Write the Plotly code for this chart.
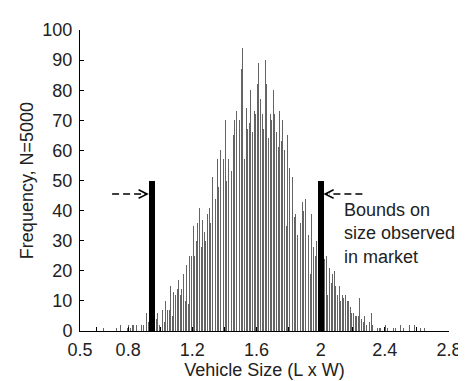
import plotly.graph_objects as go

# Histogram: bins of width 0.01 starting at 0.60
bin_start = 0.60
bin_width = 0.01
counts = [
    1, 0, 0, 0, 1, 0, 0, 0, 0, 0,          # 0.60
    0, 0, 1, 0, 0, 2, 0, 0, 0, 1,          # 0.70
    2, 1, 2, 2, 0, 2, 0, 0, 2, 2,          # 0.80
    2, 6, 3, 4, 6, 3, 5, 4, 6, 2,          # 0.90
    3, 7, 3, 10, 7, 7, 15, 5, 13, 12,      # 1.00
    14, 17, 12, 14, 19, 10, 22, 9, 25, 25, # 1.10
    35, 25, 30, 36, 41, 28, 37, 33, 30, 39,# 1.20
    41, 36, 51, 39, 44, 57, 48, 60, 52, 57,# 1.30
    70, 50, 57, 57, 53, 65, 70, 73, 66, 70,# 1.40
    87, 94, 57, 74, 67, 69, 80, 66, 73, 72,# 1.50
    82, 89, 77, 72, 67, 90, 82, 64, 72, 70,# 1.60
    80, 72, 66, 61, 73, 63, 70, 60, 35, 65,# 1.70
    54, 56, 51, 38, 39, 32, 41, 36, 43, 40,# 1.80
    44, 36, 32, 19, 39, 28, 25, 30, 24, 28,# 1.90
    22, 21, 24, 25, 12, 21, 16, 19, 20, 15,# 2.00
    12, 15, 10, 12, 11, 12, 10, 10, 8, 6,  # 2.10
    6, 5, 5, 5, 11, 4, 3, 5, 2, 3,         # 2.20
    3, 6, 2, 0, 1, 1, 1, 1, 0, 2,          # 2.30
    2, 1, 0, 0, 0, 1, 1, 0, 0, 2,          # 2.40
    0, 1, 0, 0, 0, 2, 0, 0, 2, 1,          # 2.50
    0, 0, 1, 0, 1,                         # 2.60
]
bin_centers = [round(bin_start + bin_width * (i + 0.5), 4) for i in range(len(counts))]

# Market bounds
bound_x = [0.95, 2.0]
bound_h = [50, 50]

# Tick labels
xtick_vals = [0.5, 0.8, 1.2, 1.6, 2.0, 2.4, 2.8]
xtick_text = ["0.5", "0.8", "1.2", "1.6", "2", "2.4", "2.8"]
xminor_vals = [0.6, 1.0, 1.4, 1.8, 2.2, 2.6]
ytick_vals = list(range(0, 101, 10))

arrow_y = 45.5
left_arrow = (0.70, 0.929)
right_arrow = (2.26, 2.017)
note_text = "Bounds on<br>size observed<br>in market"
note_x, note_y = 2.135, 32.5

FONT = "Liberation Sans, Arial, Helvetica, sans-serif"
FS = 18

fig = go.Figure()
fig.add_trace(go.Bar(
    x=bin_centers, y=counts, width=0.0058,
    marker=dict(color="rgba(95,95,95,0.97)", line=dict(width=0)),
    hoverinfo="skip",
))
fig.add_trace(go.Bar(
    x=bound_x, y=bound_h, width=0.036,
    marker=dict(color="black", line=dict(width=0)),
    hoverinfo="skip",
))

shapes = []
annotations = []
for (x0, x1) in [left_arrow, right_arrow]:
    direction = 1 if x1 > x0 else -1
    x_mid = x1 - direction * 0.035
    shapes.append(dict(type="line", xref="x", yref="y", x0=x0, x1=x_mid,
                       y0=arrow_y, y1=arrow_y,
                       line=dict(color="black", width=1.5, dash="7px,4px")))
    annotations.append(dict(x=x1, y=arrow_y, ax=x_mid, ay=arrow_y,
                            xref="x", yref="y", axref="x", ayref="y",
                            text="", showarrow=True, arrowhead=5,
                            arrowsize=1.1, arrowwidth=1.5, arrowcolor="black"))

annotations.append(dict(x=note_x, y=note_y, xref="x", yref="y", text=note_text,
                        showarrow=False, xanchor="left", yanchor="middle",
                        align="left", font=dict(size=FS, color="#222", family=FONT)))

fig.update_layout(
    width=466, height=381,
    margin=dict(l=72, r=16, t=15, b=58),
    paper_bgcolor="white", plot_bgcolor="white",
    showlegend=False, barmode="overlay", bargap=0,
    font=dict(family=FONT, size=FS, color="#222"),
    shapes=shapes, annotations=annotations,
)
fig.update_xaxes(
    range=[0.5, 2.8], tickmode="array", tickvals=xtick_vals, ticktext=xtick_text,
    ticks="inside", ticklen=4, tickcolor="black", showline=True, linecolor="black",
    linewidth=1, showgrid=False, zeroline=False,
    minor=dict(tickmode="array", tickvals=xminor_vals, ticks="inside", ticklen=4,
               tickcolor="black"),
    title=dict(text="Vehicle Size (L x W)", font=dict(size=FS), standoff=4),
    tickfont=dict(size=FS), ticklabelstandoff=2,
)
fig.update_yaxes(
    range=[0, 100], tickmode="array", tickvals=ytick_vals,
    ticks="inside", ticklen=4, tickcolor="black", showline=True, linecolor="black",
    linewidth=1, showgrid=False, zeroline=False,
    title=dict(text="Frequency, N=5000", font=dict(size=FS), standoff=4),
    tickfont=dict(size=FS), ticklabelstandoff=3,
)

fig.write_html("out.html")
